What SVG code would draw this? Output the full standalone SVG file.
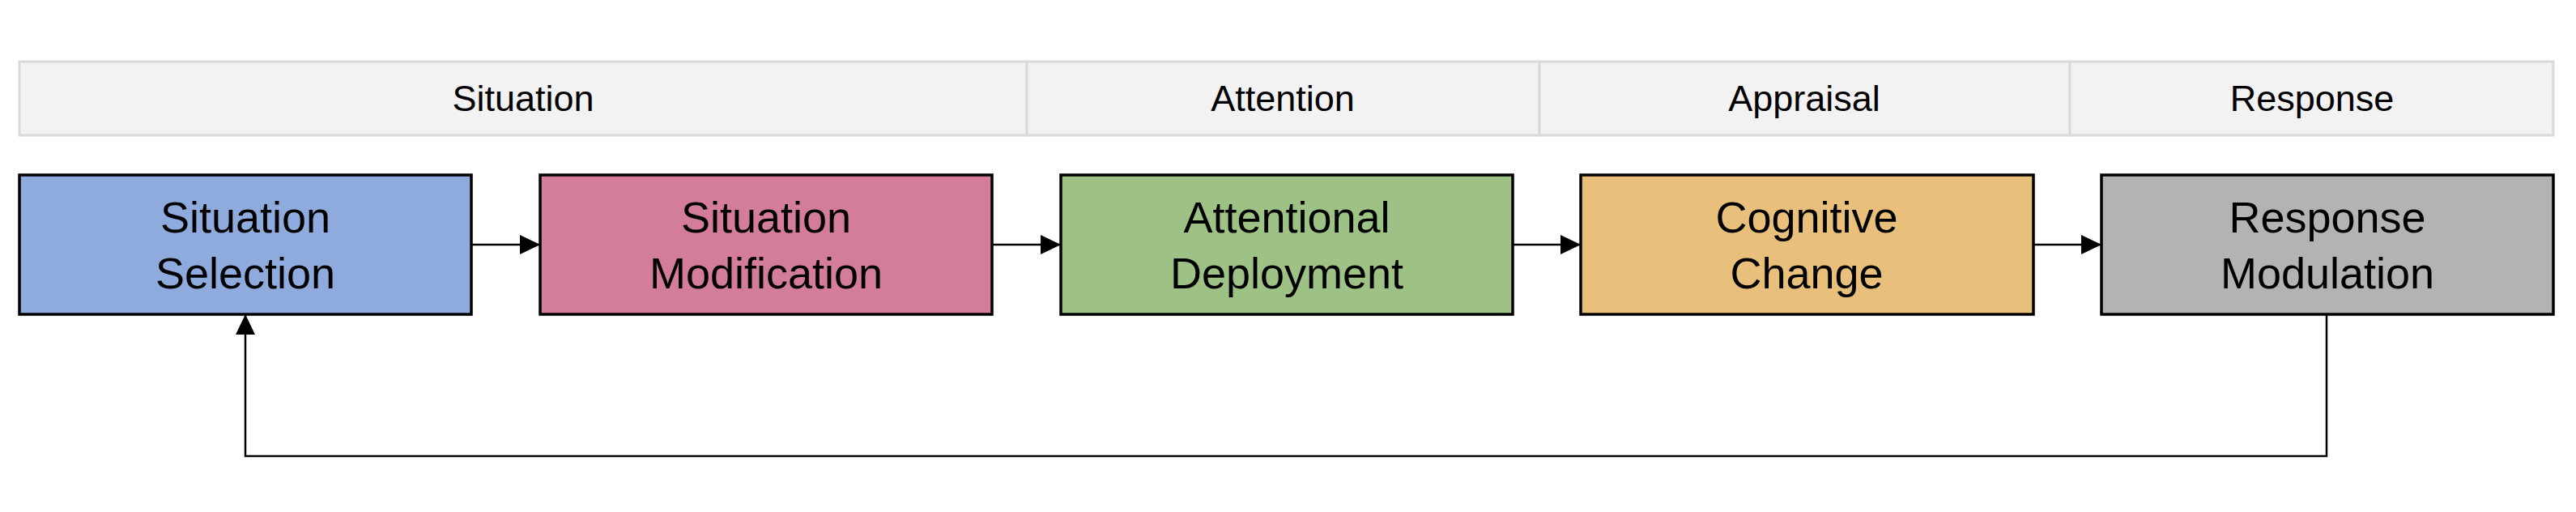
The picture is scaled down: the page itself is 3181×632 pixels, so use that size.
<svg xmlns="http://www.w3.org/2000/svg" width="3181" height="632" viewBox="0 0 3181 632">
<style>
.hdr{fill:#f2f2f2;stroke:#d9d9d9;stroke-width:3}
.hdrt{font-family:"Liberation Sans",Arial,sans-serif;font-size:45px;fill:#000;text-anchor:middle}
.box{stroke:#000;stroke-width:3.5}
.bt{font-family:"Liberation Sans",Arial,sans-serif;font-size:54px;fill:#000;text-anchor:middle}
.conn{fill:none;stroke:#000;stroke-width:2.5}
</style>
<defs>
<marker id="ah" markerUnits="userSpaceOnUse" markerWidth="26" markerHeight="24" refX="25" refY="12" orient="auto">
<path d="M0,0 L25,12 L0,24 Z" fill="#000"/>
</marker>
</defs>
<rect width="3181" height="632" fill="#fff"/>
<g id="header">
<rect class="hdr" x="24" y="76" width="1244" height="91"/>
<rect class="hdr" x="1268" y="76" width="633" height="91"/>
<rect class="hdr" x="1901" y="76" width="655" height="91"/>
<rect class="hdr" x="2556" y="76" width="597" height="91"/>
<text class="hdrt" x="646" y="137">Situation</text>
<text class="hdrt" x="1584" y="137">Attention</text>
<text class="hdrt" x="2228" y="137">Appraisal</text>
<text class="hdrt" x="2855" y="137">Response</text>
</g>
<g id="connectors">
<line class="conn" x1="582" y1="302" x2="667" y2="302" marker-end="url(#ah)"/>
<line class="conn" x1="1225" y1="302" x2="1310" y2="302" marker-end="url(#ah)"/>
<line class="conn" x1="1868" y1="302" x2="1952" y2="302" marker-end="url(#ah)"/>
<line class="conn" x1="2511" y1="302" x2="2595" y2="302" marker-end="url(#ah)"/>
<polyline class="conn" points="2873,388 2873,563 303,563 303,388" marker-end="url(#ah)"/>
</g>
<g id="n1">
<rect class="box" x="24" y="216" width="558" height="172" fill="#8faadc"/>
<text class="bt" x="303" y="287">Situation</text>
<text class="bt" x="303" y="356">Selection</text>
</g>
<g id="n2">
<rect class="box" x="667" y="216" width="558" height="172" fill="#d47c9b"/>
<text class="bt" x="946" y="287">Situation</text>
<text class="bt" x="946" y="356">Modification</text>
</g>
<g id="n3">
<rect class="box" x="1310" y="216" width="558" height="172" fill="#9ec285"/>
<text class="bt" x="1589" y="287">Attentional</text>
<text class="bt" x="1589" y="356">Deployment</text>
</g>
<g id="n4">
<rect class="box" x="1952" y="216" width="559" height="172" fill="#e8bf7b"/>
<text class="bt" x="2231" y="287">Cognitive</text>
<text class="bt" x="2231" y="356">Change</text>
</g>
<g id="n5">
<rect class="box" x="2595" y="216" width="558" height="172" fill="#b3b3b3"/>
<text class="bt" x="2874" y="287">Response</text>
<text class="bt" x="2874" y="356">Modulation</text>
</g>
</svg>
